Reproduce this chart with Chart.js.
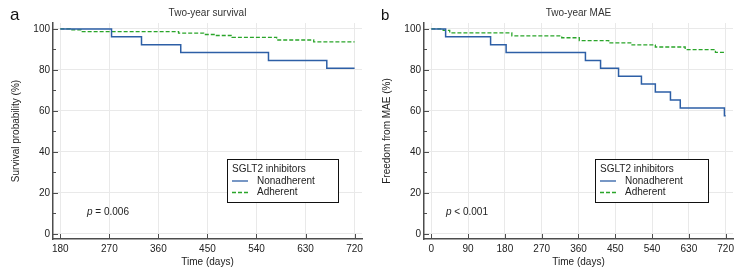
<!DOCTYPE html>
<html><head><meta charset="utf-8">
<script src="https://cdn.jsdelivr.net/npm/chart.js@4.4.1/dist/chart.umd.min.js"></script>
<style>
html,body{margin:0;padding:0;background:#fff;overflow:hidden;}
.p{position:absolute;top:0;width:371px;height:277px;}
#pa{left:0}#pb{left:371px}
</style></head><body>
<div class="p" id="pa"><canvas id="ca"></canvas></div>
<div class="p" id="pb"><canvas id="cb"></canvas></div>
<script>
// ---- Data ----
const seriesNames = ['Nonadherent', 'Adherent'];
const legendTitle = 'SGLT2 inhibitors';

// Panel a: Two-year survival
const survNonDays = [180, 274, 329, 401, 562, 669, 720];
const survNonVals = [100, 96.2, 92.3, 88.5, 84.6, 80.8, 80.8];
const survAdhDays = [180, 198, 218, 397, 443, 464, 495, 577, 645, 720];
const survAdhVals = [100, 99.5, 98.7, 98.0, 97.3, 96.8, 95.9, 94.6, 93.7, 93.7];
const survXTicks = [180, 270, 360, 450, 540, 630, 720];

// Panel b: Two-year MAE
const maeNonDays = [0, 35, 145, 183, 377, 414, 458, 514, 548, 585, 609, 717, 720];
const maeNonVals = [100, 96.2, 92.3, 88.5, 84.6, 80.8, 76.9, 73.1, 69.2, 65.4, 61.5, 57.7, 57.7];
const maeAdhDays = [0, 29, 45, 197, 319, 362, 434, 491, 548, 621, 695, 720];
const maeAdhVals = [100, 99.3, 98.1, 96.6, 95.7, 94.3, 93.2, 92.2, 91.2, 89.9, 88.6, 88.6];
const maeXTicks = [0, 90, 180, 270, 360, 450, 540, 630, 720];

const yTicks = [0, 20, 40, 60, 80, 100];
const yMinorTicks = [10, 30, 50, 70, 90];

// ---- Styling ----
Chart.defaults.font.family = "'Liberation Sans', Arial, sans-serif";
Chart.defaults.font.size = 10;
Chart.defaults.color = '#222';
const AX = '#4d4d4d', GRID = '#e9e9e9', BLUE = '#2d5fa6', GREEN = '#2aa52a';

function pts(d, v) { return d.map((x, i) => ({ x: x, y: v[i] })); }

const decor = {
  id: 'decor',
  afterDatasetsDraw(chart, args, o) {
    const ctx = chart.ctx, xs = chart.scales.x, ys = chart.scales.y, ca = chart.chartArea;
    ctx.save();
    ctx.strokeStyle = AX; ctx.lineWidth = 1;
    // y ticks inside
    yTicks.forEach(v => { const y = Math.round(ys.getPixelForValue(v)) + 0.5; ctx.beginPath(); ctx.moveTo(ca.left, y); ctx.lineTo(ca.left + 5, y); ctx.stroke(); });
    yMinorTicks.forEach(v => { const y = Math.round(ys.getPixelForValue(v)) + 0.5; ctx.beginPath(); ctx.moveTo(ca.left, y); ctx.lineTo(ca.left + 3, y); ctx.stroke(); });
    o.xTicks.forEach(v => { const x = Math.round(xs.getPixelForValue(v)) + 0.5; ctx.beginPath(); ctx.moveTo(x, ca.bottom); ctx.lineTo(x, ca.bottom - 5); ctx.stroke(); });
    // panel letter
    ctx.fillStyle = '#111'; ctx.textBaseline = 'alphabetic'; ctx.textAlign = 'left';
    ctx.font = o.letterSize + "px 'Liberation Sans', Arial, sans-serif";
    ctx.fillText(o.letter, 10, 20);
    // p value
    ctx.font = "italic 10px 'Liberation Sans', Arial, sans-serif";
    ctx.textBaseline = 'middle';
    ctx.fillStyle = '#222';
    ctx.fillText('p', o.pX, 212);
    const pw = ctx.measureText('p').width;
    ctx.font = "10px 'Liberation Sans', Arial, sans-serif";
    ctx.fillText(o.pText, o.pX + pw, 212);
    // legend box
    const L = o.legend;
    ctx.fillStyle = '#fff';
    ctx.fillRect(L.x, 159, L.w, 43);
    ctx.strokeStyle = '#111'; ctx.lineWidth = 1;
    ctx.strokeRect(L.x + 0.5, 159.5, L.w, 43);
    ctx.fillStyle = '#222';
    ctx.fillText(legendTitle, L.x + 5, 169);
    chart.data.datasets.forEach((ds, i) => {
      const y = 181 + i * 11.5;
      ctx.strokeStyle = ds.borderColor; ctx.lineWidth = 1.3;
      ctx.setLineDash(ds.borderDash || []);
      ctx.beginPath(); ctx.moveTo(L.x + 5, y); ctx.lineTo(L.x + 21, y); ctx.stroke();
      ctx.setLineDash([]);
      ctx.fillStyle = '#222';
      ctx.fillText(ds.label, L.x + 30, y);
    });
    ctx.restore();
  }
};

function make(id, c) {
  return new Chart(document.getElementById(id), {
    type: 'line',
    data: {
      datasets: [
        { label: seriesNames[0], data: pts(c.nd, c.nv), borderColor: BLUE, borderWidth: 1.5, stepped: true, pointRadius: 0, fill: false },
        { label: seriesNames[1], data: pts(c.ad, c.av), borderColor: GREEN, borderWidth: 1.3, borderDash: [4, 2], stepped: true, pointRadius: 0, fill: false }
      ]
    },
    options: {
      responsive: true, maintainAspectRatio: false, animation: false,
      layout: { padding: { left: 0, right: 9, top: 0, bottom: 0 } },
      plugins: {
        legend: { display: false }, tooltip: { enabled: false },
        title: { display: true, text: c.title, fullSize: false, padding: { top: 7, bottom: 4 }, font: { size: 10, weight: 'normal' }, color: '#333' },
        decor: c.decor
      },
      scales: {
        x: {
          type: 'linear', min: c.xmin, max: c.xmax,
          afterBuildTicks: s => { s.ticks = c.xticks.map(v => ({ value: v })); },
          afterFit: s => { s.height = 38; s.paddingLeft = 0; s.paddingRight = 0; },
          ticks: { padding: 4, color: '#222', font: { size: 10 } },
          grid: { color: GRID, drawTicks: false },
          border: { display: true, color: AX, width: 1.5 },
          title: { display: true, text: 'Time (days)', color: '#222', font: { size: 10 }, padding: { top: 0, bottom: 9 } }
        },
        y: {
          type: 'linear', min: -2.44, max: 102.9,
          afterBuildTicks: s => { s.ticks = yTicks.map(v => ({ value: v })); },
          afterFit: s => { s.width = 53; s.paddingTop = 0; s.paddingBottom = 0; },
          ticks: { padding: 3, color: '#222', font: { size: 10 } },
          grid: { color: GRID, drawTicks: false },
          border: { display: true, color: AX, width: 1.5 },
          title: { display: true, text: c.ytitle, color: '#222', font: { size: 10 }, padding: { top: 10, bottom: 0 } }
        }
      }
    },
    plugins: [decor]
  });
}

make('ca', {
  title: 'Two-year survival', ytitle: 'Survival probability (%)',
  nd: survNonDays, nv: survNonVals, ad: survAdhDays, av: survAdhVals,
  xmin: 166.6, xmax: 733.6, xticks: survXTicks,
  decor: { letter: 'a', letterSize: 17, pX: 87, pText: ' = 0.006', xTicks: survXTicks, legend: { x: 227, w: 111 } }
});
make('cb', {
  title: 'Two-year MAE', ytitle: 'Freedom from MAE (%)',
  nd: maeNonDays, nv: maeNonVals, ad: maeAdhDays, av: maeAdhVals,
  xmin: -17.9, xmax: 738, xticks: maeXTicks,
  decor: { letter: 'b', letterSize: 15, pX: 75, pText: ' < 0.001', xTicks: maeXTicks, legend: { x: 224, w: 113 } }
});
</script>
</body></html>
